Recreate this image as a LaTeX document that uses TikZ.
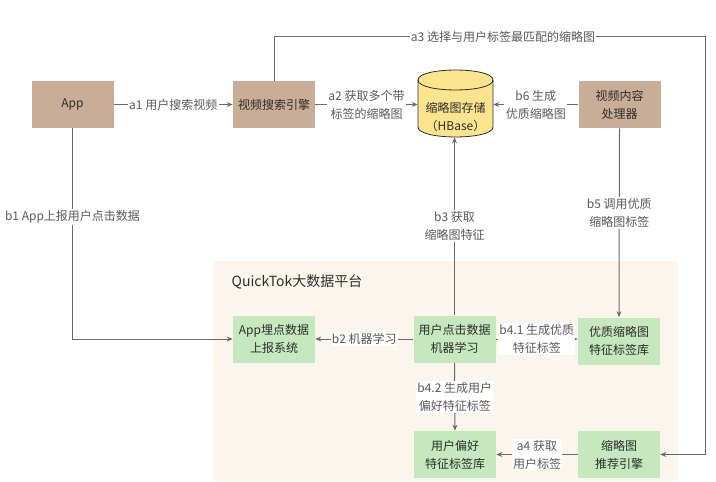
\documentclass[tikz,border=0pt]{standalone}
\usepackage{fontspec}
\setmainfont{Noto Sans CJK SC}
\usepackage{xcolor}
\definecolor{qtTan}  {RGB}{201, 174, 151}
\definecolor{qtGreen}{RGB}{198, 232, 190}
\definecolor{qtCream}{RGB}{250, 246, 236}
\definecolor{qtGold} {RGB}{252, 227, 142}
\definecolor{qtLine} {RGB}{105, 105, 105}
\definecolor{qtText} {RGB}{ 90,  90,  90}
\definecolor{qtDark} {RGB}{ 45,  45,  45}
\usepackage{tikz}
\usetikzlibrary{
  arrows.meta,
  positioning,
  calc,
}

\begin{document}
\begin{tikzpicture}[
  x=0.75pt, y=-0.75pt,
  >={Stealth[length=4.5pt,width=3.6pt]},
  box/.style={minimum width=61.5pt, minimum height=35.25pt, inner sep=1pt,
    align=center, text=qtDark, font=\fontsize{9}{13.5}\selectfont},
  tanbox/.style={box, fill=qtTan},
  greenbox/.style={box, fill=qtGreen},
  flow/.style={->, draw=qtLine, line width=0.75pt},
  lbl/.style={fill=white, inner sep=1pt, align=center, text=qtText,
    font=\fontsize{9}{13.5}\selectfont},
]
  \useasboundingbox (0,0) rectangle (716,481);

  % Platform area
  \fill[qtCream] (213,261) rectangle (678,481);
  \node[anchor=west, text=qtDark, font=\fontsize{10.5}{12}\selectfont] (ptitle)
    at (227,282) {QuickTok大数据平台};

  % Top row
  \node[tanbox] (app)    at (72.5,104.5) {App};
  \node[tanbox] (search) at (274,104.5)  {视频搜索引擎};
  \node[tanbox] (proc)   at (619.5,104.5) {视频内容\\处理器};

  % HBase store
  \draw[fill=qtGold, draw=qtDark, line width=0.6pt]
    (418,80) -- (418,127) .. controls (418,140.3) and (493,140.3) .. (493,127)
    -- (493,80) .. controls (493,66.7) and (418,66.7) .. cycle;
  \draw[draw=qtDark, line width=0.6pt]
    (418,80) .. controls (418,93.3) and (493,93.3) .. (493,80);
  \node[minimum width=56.25pt, minimum height=50.25pt, inner sep=0pt] (hbase)
    at (455.5,103.5) {};
  \node[align=center, inner sep=0pt, text=qtDark,
    font=\fontsize{9}{13.5}\selectfont] (hbtext) at (455.5,117) {缩略图存储\\（HBase）};

  % Platform boxes
  \node[greenbox] (track) at (274,339)   {App埋点数据\\上报系统};
  \node[greenbox] (ml)    at (454.5,339) {用户点击数据\\机器学习};
  \node[greenbox] (feat)  at (619,341)   {优质缩略图\\特征标签库};
  \node[greenbox] (pref)  at (455,454.5) {用户偏好\\特征标签库};
  \node[greenbox] (rec)   at (619,454.5) {缩略图\\推荐引擎};

  % a-flow
  \draw[flow] (app) -- node[lbl] {a1 用户搜索视频} (search);
  \draw[flow] (search.east) -- node[lbl] {a2 获取多个带\\标签的缩略图}
    (search.east -| hbase.west);
  \coordinate (a3r) at (705,37);
  \draw[flow] (search.north) |- (a3r) |- (rec.east);
  \node[lbl] (a3lbl) at (503,37) {a3 选择与用户标签最匹配的缩略图};
  \draw[flow] (rec) -- node[lbl] {a4 获取\\用户标签} (pref);

  % b-flow
  \draw[flow] (app.south) |- node[lbl, pos=0.21] {b1 App上报用户点击数据} (track.west);
  \draw[flow] (ml) -- node[lbl] {b2 机器学习} (track);
  \draw[flow] (ml.north) -- node[lbl] {b3 获取\\缩略图特征} (ml.north |- hbase.south);
  \draw[flow] (ml.east) -- node[lbl] {b4.1 生成优质\\特征标签} (ml.east -| feat.west);
  \draw[flow] (ml.south) -- node[lbl] {b4.2 生成用户\\偏好特征标签} (pref.north);
  \draw[flow] (proc.south) -- node[lbl, pos=0.45] {b5 调用优质\\缩略图标签} (feat.north);
  \draw[flow] (proc.west) -- node[lbl] {b6 生成\\优质缩略图} (proc.west -| hbase.east);

\end{tikzpicture}
\end{document}
